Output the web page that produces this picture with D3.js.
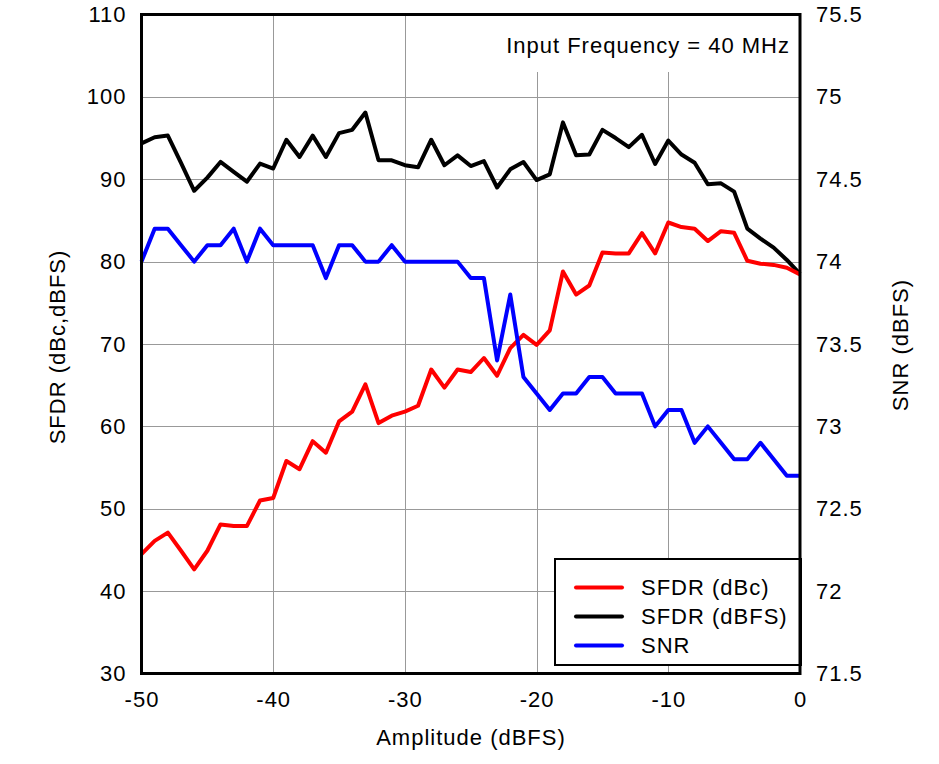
<!DOCTYPE html>
<html>
<head>
<meta charset="utf-8">
<script src="https://cdn.jsdelivr.net/npm/d3@7"></script>
<style>
  html, body { margin: 0; padding: 0; background: #fff; }
  svg { display: block; font-family: "Liberation Sans", Arial, sans-serif; }
  svg text { letter-spacing: 1px; }
</style>
</head>
<body>
<svg id="chart" width="939" height="764"></svg>
<script>
// ---- data ----
const amplitude = d3.range(-50, 1, 1); // -50 .. 0 dBFS
const sfdrDbc = [44.5, 46.1, 47.1, 44.9, 42.65, 44.9, 48.1, 47.9, 47.9, 51.0,
  51.3, 55.8, 54.8, 58.2, 56.8, 60.6, 61.8, 65.1, 60.4, 61.3,
  61.8, 62.5, 66.9, 64.7, 66.9, 66.6, 68.3, 66.15, 69.5, 71.1,
  69.9, 71.65, 78.8, 76.0, 77.1, 81.1, 81.0, 81.0, 83.45, 81.0,
  84.75, 84.2, 84.0, 82.5, 83.7, 83.5, 80.1, 79.75, 79.6, 79.25, 78.45];
const sfdrDbfs = [94.36, 95.1, 95.3, 92.0, 88.6, 90.2, 92.1, 90.9, 89.7, 91.9,
  91.3, 94.8, 92.7, 95.3, 92.7, 95.6, 96.0, 98.1, 92.3, 92.3,
  91.7, 91.45, 94.8, 91.7, 92.9, 91.6, 92.2, 89.0, 91.2, 92.1,
  89.9, 90.6, 96.9, 92.9, 93.0, 96.0, 95.0, 93.9, 95.4, 91.85,
  94.7, 93.0, 92.0, 89.4, 89.5, 88.5, 84.0, 82.8, 81.7, 80.2, 78.5];
const snr = [74.0, 74.2, 74.2, 74.1, 74.0, 74.1, 74.1, 74.2, 74.0, 74.2,
  74.1, 74.1, 74.1, 74.1, 73.9, 74.1, 74.1, 74.0, 74.0, 74.1,
  74.0, 74.0, 74.0, 74.0, 74.0, 73.9, 73.9, 73.4, 73.8, 73.3,
  73.2, 73.1, 73.2, 73.2, 73.3, 73.3, 73.2, 73.2, 73.2, 73.0,
  73.1, 73.1, 72.9, 73.0, 72.9, 72.8, 72.8, 72.9, 72.8, 72.7, 72.7];
const xTicks = [-50, -40, -30, -20, -10, 0];
const yLeftTicks = [30, 40, 50, 60, 70, 80, 90, 100, 110];
const yRightTicks = [71.5, 72, 72.5, 73, 73.5, 74, 74.5, 75, 75.5];
const seriesNames = ["SFDR (dBc)", "SFDR (dBFS)", "SNR"];
const seriesColors = ["#ff0000", "#000000", "#0000ff"];
const titleText = "Input Frequency = 40 MHz";

// ---- layout ----
const L = 141.5, R = 800, T = 14.5, B = 673.5;
const svg = d3.select("#chart");
const x = d3.scaleLinear().domain([-50, 0]).range([L, R]);
const yL = d3.scaleLinear().domain([30, 110]).range([B, T]);
const yR = d3.scaleLinear().domain([71.5, 75.5]).range([B, T]);
const fs = 22;

// gridlines
const grid = svg.append("g").attr("stroke", "#999").attr("stroke-width", 1);
xTicks.slice(1, -1).forEach(v => {
  grid.append("line").attr("x1", Math.round(x(v)) + 0.5).attr("x2", Math.round(x(v)) + 0.5)
    .attr("y1", T).attr("y2", B);
});
yLeftTicks.slice(1, -1).forEach(v => {
  grid.append("line").attr("y1", Math.round(yL(v)) + 0.5).attr("y2", Math.round(yL(v)) + 0.5)
    .attr("x1", L).attr("x2", R);
});

// title with white background
svg.append("rect").attr("x", 493).attr("y", 16).attr("width", 305).attr("height", 56).attr("fill", "#fff");
svg.append("text").attr("x", 790).attr("y", 53).attr("text-anchor", "end")
  .attr("font-size", fs).attr("fill", "#000").text(titleText);

// lines
const lineL = d3.line().x((d, i) => x(amplitude[i])).y(d => yL(d));
const lineR = d3.line().x((d, i) => x(amplitude[i])).y(d => yR(d));
const plotG = svg.append("g").attr("fill", "none").attr("stroke-width", 4)
  .attr("stroke-linejoin", "round").attr("stroke-linecap", "butt");
plotG.append("path").attr("d", lineL(sfdrDbfs)).attr("stroke", seriesColors[1]);
plotG.append("path").attr("d", lineL(sfdrDbc)).attr("stroke", seriesColors[0]);
plotG.append("path").attr("d", lineR(snr)).attr("stroke", seriesColors[2]);

// legend
const lg = svg.append("g");
lg.append("rect").attr("x", 555).attr("y", 559).attr("width", 246).attr("height", 106)
  .attr("fill", "#fff").attr("stroke", "#000").attr("stroke-width", 2);
seriesNames.forEach((name, i) => {
  const yy = 587.5 + i * 29;
  lg.append("line").attr("x1", 576).attr("x2", 622).attr("y1", yy).attr("y2", yy)
    .attr("stroke", seriesColors[i]).attr("stroke-width", 4).attr("stroke-linecap", "round");
  lg.append("text").attr("x", 641).attr("y", yy).attr("dy", "0.36em")
    .attr("font-size", fs).attr("fill", "#000").text(name);
});

// frame
svg.append("rect").attr("x", L).attr("y", T).attr("width", R - L).attr("height", B - T)
  .attr("fill", "none").attr("stroke", "#000").attr("stroke-width", 3);

// axes (labels only, no tick marks)
const fmt = d => String(d);
const axB = d3.axisBottom(x).tickValues(xTicks).tickSize(0).tickPadding(18).tickFormat(fmt);
const axL = d3.axisLeft(yL).tickValues(yLeftTicks).tickSize(0).tickPadding(15).tickFormat(fmt);
const axR = d3.axisRight(yR).tickValues(yRightTicks).tickSize(0).tickPadding(16).tickFormat(fmt);
function styleAxis(g) {
  g.select(".domain").remove();
  g.selectAll("text").attr("font-size", fs).attr("fill", "#000")
    .attr("font-family", '"Liberation Sans", Arial, sans-serif');
}
svg.append("g").attr("transform", `translate(0,${B})`).call(axB).call(styleAxis);
svg.append("g").attr("transform", `translate(${L},0)`).call(axL).call(styleAxis);
svg.append("g").attr("transform", `translate(${R},0)`).call(axR).call(styleAxis);

// axis titles
svg.append("text").attr("x", 471).attr("y", 737).attr("dy", "0.36em").attr("text-anchor", "middle")
  .attr("font-size", fs).text("Amplitude (dBFS)");
svg.append("text").attr("transform", "translate(57,347) rotate(-90)").attr("dy", "0.36em")
  .attr("text-anchor", "middle").attr("font-size", fs).text("SFDR (dBc,dBFS)");
svg.append("text").attr("transform", "translate(900,345) rotate(-90)").attr("dy", "0.36em")
  .attr("text-anchor", "middle").attr("font-size", fs).text("SNR (dBFS)");
</script>
</body>
</html>
